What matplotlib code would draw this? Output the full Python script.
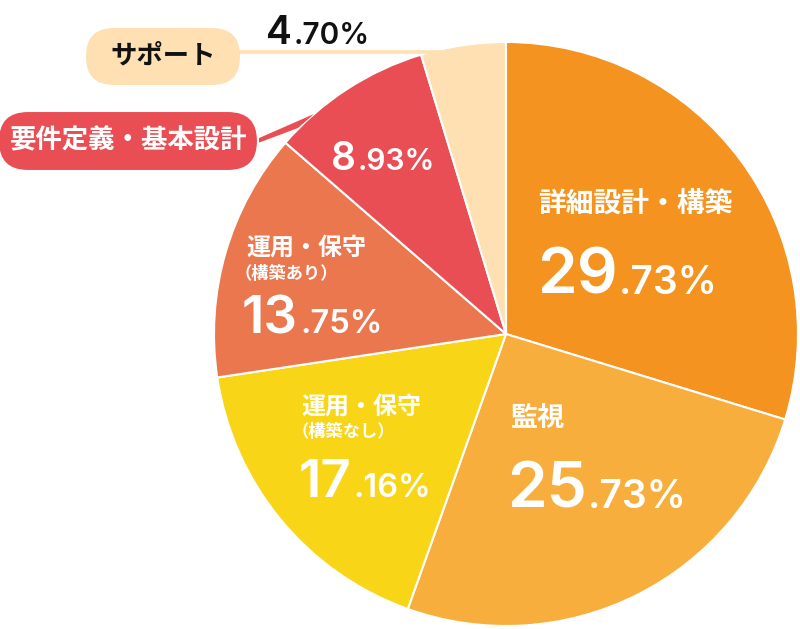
import matplotlib
matplotlib.use("Agg")
import matplotlib.pyplot as plt
from matplotlib.patches import FancyBboxPatch, Polygon

plt.rcParams['font.family'] = ['Noto Sans CJK JP', 'DejaVu Sans']

categories = ["詳細設計・構築", "監視", "運用・保守\n（構築なし）", "運用・保守\n（構築あり）", "要件定義・基本設計", "サポート"]
values = [29.73, 25.73, 17.16, 13.75, 8.93, 4.70]
colors = ["#F59320", "#F8AE3D", "#F8D517", "#EA774E", "#E94E54", "#FEE0B2"]

W, H = 800, 629
fig = plt.figure(figsize=(W / 100, H / 100), dpi=100)
ax = fig.add_axes([0, 0, 1, 1])

cx, cy, r = 506, H - 334, 292
ax.pie(values, colors=colors, startangle=90, counterclock=False,
       center=(cx, cy), radius=r, frame=True,
       wedgeprops=dict(edgecolor='white', linewidth=1.5))
ax.set_xlim(0, W)
ax.set_ylim(0, H)
ax.set_aspect('equal')
ax.axis('off')

NUMFONT = ['Inter', 'Lato', 'DejaVu Sans']

def Y(y):
    return H - y

def pct(x, ybase, val, big, small, color='white', gap=1):
    s = f"{val:.2f}"
    ip, dp = s.split('.')
    t1 = ax.text(x, Y(ybase), ip, fontsize=big, color=color, fontweight='semibold',
                 family=NUMFONT, ha='left', va='baseline')
    fig.canvas.draw()
    bb = t1.get_window_extent()
    x2 = bb.x1 + gap
    ax.text(x2, Y(ybase), "." + dp + "%", fontsize=small, color=color, fontweight='semibold',
            family=NUMFONT, ha='left', va='baseline')

lab_kw = dict(color='white', fontweight='bold', ha='left', va='center')

# 詳細設計・構築
ax.text(538, Y(204), "詳細設計・構築", fontsize=20, **lab_kw)
pct(537, 294, values[0], 46, 28)

# 監視
ax.text(511, Y(418), "監視", fontsize=19.5, **lab_kw)
pct(507, 508, values[1], 46, 28)

# 運用・保守（構築なし）
ax.text(301, Y(407), "運用・保守", fontsize=17.3, **lab_kw)
ax.text(292, Y(432), "（構築なし）", fontsize=12.4, **lab_kw)
pct(299, 497, values[2], 38, 23.5, gap=2)

# 運用・保守（構築あり）
ax.text(246, Y(248), "運用・保守", fontsize=17.3, **lab_kw)
ax.text(235, Y(274), "（構築あり）", fontsize=12.4, **lab_kw)
pct(242, 333, values[3], 38, 23.5, gap=2)

# 8.93%
pct(331, 170, values[4], 28, 21.5, gap=2)

# 4.70%
pct(266, 44, values[5], 28, 21.5, color='#111111', gap=2)

# support pill + leader
ax.plot([238, 445], [Y(52), Y(52)], color=colors[5], lw=2.6, zorder=1,
        solid_capstyle='butt')
pill1 = FancyBboxPatch((86, Y(85)), 154, 57,
                       boxstyle="round,pad=0,rounding_size=28",
                       fc=colors[5], ec='none', zorder=3)
ax.add_patch(pill1)
ax.text(163, Y(56), "サポート", fontsize=19, color='#111111', fontweight='bold',
        ha='center', va='center', zorder=4)

# 要件定義 pill + leader tail
tail = Polygon([(250, Y(142)), (250, Y(146)), (298, Y(128)), (314, Y(114))],
               closed=True, fc=colors[4], ec='none', zorder=2)
ax.add_patch(tail)
pill2 = FancyBboxPatch((-2, Y(171)), 260, 60,
                       boxstyle="round,pad=0,rounding_size=30",
                       fc=colors[4], ec='white', lw=1.5, zorder=3)
ax.add_patch(pill2)
ax.text(129, Y(141), "要件定義・基本設計", fontsize=19, color='white', fontweight='bold',
        ha='center', va='center', zorder=4)

fig.savefig("out.png", dpi=100)
